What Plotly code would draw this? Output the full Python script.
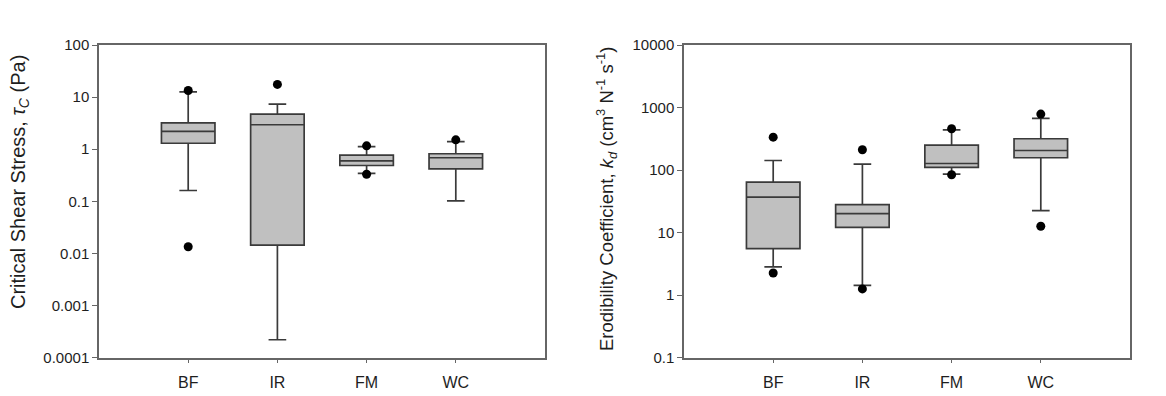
import plotly.graph_objects as go

# Sites on the x axis
sites = ["BF", "IR", "FM", "WC"]

# Critical shear stress, tau_c (Pa): box statistics per site
tau_lower = [0.161, 0.000219, 0.342, 0.102]
tau_q1 = [1.30, 0.0144, 0.486, 0.42]
tau_median = [2.19, 2.94, 0.598, 0.684]
tau_q3 = [3.21, 4.70, 0.767, 0.816]
tau_upper = [12.6, 7.3, 1.12, 1.39]
tau_out_site = ["BF", "BF", "IR", "FM", "FM", "WC"]
tau_out_val = [13.4, 0.0134, 17.5, 1.16, 0.33, 1.51]

# Erodibility coefficient, k_d (cm^3 N^-1 s^-1): box statistics per site
kd_lower = [2.81, 1.43, 85.7, 22.4]
kd_q1 = [5.52, 12.1, 110, 157]
kd_median = [36.7, 20.1, 127, 205]
kd_q3 = [63.8, 28.0, 250, 316]
kd_upper = [142, 124, 440, 668]
kd_out_site = ["BF", "BF", "IR", "IR", "FM", "FM", "WC", "WC"]
kd_out_val = [335, 2.25, 211, 1.25, 457, 84, 784, 12.6]

tau_ticks = [0.0001, 0.001, 0.01, 0.1, 1, 10, 100]
tau_tick_text = ["0.0001", "0.001", "0.01", "0.1", "1", "10", "100"]
kd_ticks = [0.1, 1, 10, 100, 1000, 10000]
kd_tick_text = ["0.1", "1", "10", "100", "1000", "10000"]

W, H = 1166, 396
FONT = "Liberation Sans, Arial, sans-serif"
FRAME = "#666666"
BOX_LINE = "#3a3a3a"
BOX_FILL = "#c0c0c0"
TEXT = "#1e1e1e"

fig = go.Figure()


def add_panel(xa, ya, lo, q1, med, q3, hi, out_x, out_y):
    fig.add_trace(go.Box(
        x=sites, q1=q1, median=med, q3=q3,
        lowerfence=lo, upperfence=hi,
        boxpoints=False, width=0.6, whiskerwidth=0.33,
        fillcolor=BOX_FILL, line=dict(color=BOX_LINE, width=1.7),
        xaxis=xa, yaxis=ya, showlegend=False, hoverinfo="skip",
    ))
    fig.add_trace(go.Scatter(
        x=out_x, y=out_y, mode="markers",
        marker=dict(color="black", size=9),
        xaxis=xa, yaxis=ya, showlegend=False, hoverinfo="skip",
    ))


add_panel("x", "y", tau_lower, tau_q1, tau_median, tau_q3, tau_upper,
          tau_out_site, tau_out_val)
add_panel("x2", "y2", kd_lower, kd_q1, kd_median, kd_q3, kd_upper,
          kd_out_site, kd_out_val)

x_common = dict(
    type="category", categoryorder="array", categoryarray=sites,
    range=[-1, 4], showline=True, linecolor=FRAME, linewidth=1.5,
    mirror=True, ticks="outside", ticklen=4, tickcolor=FRAME, tickwidth=1,
    ticklabelstandoff=6,
    showgrid=False, zeroline=False, automargin=False,
    tickfont=dict(family=FONT, size=16, color=TEXT),
)
y_common = dict(
    type="log", showline=True, linecolor=FRAME, linewidth=1.5, mirror=True,
    ticks="outside", ticklen=5, tickcolor=FRAME, tickwidth=1,
    showgrid=False, zeroline=False, automargin=False,
    tickfont=dict(family=FONT, size=15, color=TEXT),
)

y_dom = [1 - 357.5 / H, 1 - 45 / H]

fig.update_layout(
    width=W, height=H,
    margin=dict(l=0, r=0, t=0, b=0),
    paper_bgcolor="white", plot_bgcolor="white",
    template="none",
    font=dict(family=FONT, size=15, color=TEXT),
    xaxis=dict(domain=[99 / W, 545 / W], anchor="y", **x_common),
    xaxis2=dict(domain=[684 / W, 1130 / W], anchor="y2", **x_common),
    yaxis=dict(domain=y_dom, anchor="x", range=[-4, 2],
               tickvals=tau_ticks, ticktext=tau_tick_text, **y_common),
    yaxis2=dict(domain=y_dom, anchor="x2", range=[-1, 4],
                tickvals=kd_ticks, ticktext=kd_tick_text, **y_common),
    annotations=[
        dict(text="Critical Shear Stress, <i>τ<sub>C</sub></i> (Pa)",
             xref="paper", yref="paper", x=20 / W, y=1 - 182 / H,
             xanchor="center", yanchor="middle", textangle=-90,
             showarrow=False, font=dict(family=FONT, size=20, color=TEXT)),
        dict(text="Erodibility Coefficient, <i>k<sub>d</sub></i> "
                  "(cm<sup>3</sup> N<sup>-1</sup> s<sup>-1</sup>)",
             xref="paper", yref="paper", x=607 / W, y=1 - 199 / H,
             xanchor="center", yanchor="middle", textangle=-90,
             showarrow=False, font=dict(family=FONT, size=18.5, color=TEXT)),
    ],
)

fig.write_html("out.html")
